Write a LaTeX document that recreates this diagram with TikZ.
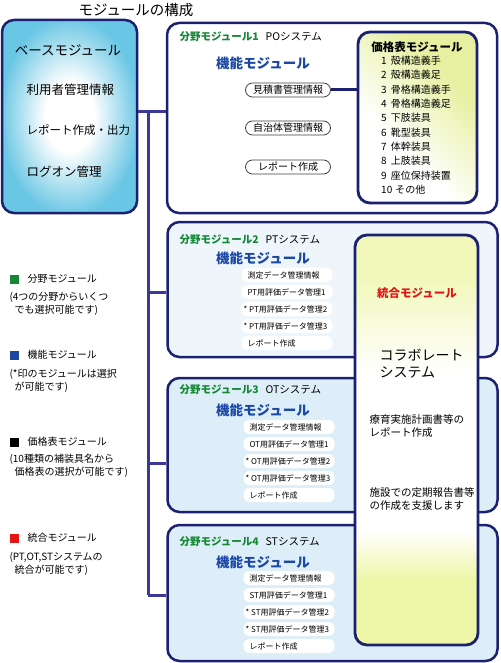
\documentclass[tikz,border=0pt]{standalone}
\usepackage{fontspec}
\setmainfont{Noto Sans CJK JP}
\usepackage{tikz}
\usetikzlibrary{positioning}
\definecolor{navy}{RGB}{28,32,112}
\definecolor{trunkblue}{RGB}{58,58,150}
\definecolor{basecyan}{RGB}{105,198,228}
\definecolor{paleblue}{RGB}{238,246,252}
\definecolor{lightblue}{RGB}{221,238,248}
\definecolor{priceyellow}{RGB}{230,240,160}
\definecolor{unifyyellow}{RGB}{238,246,168}
\definecolor{fieldgreen}{RGB}{22,135,55}
\definecolor{funcblue}{RGB}{28,72,165}
\definecolor{unifyred}{RGB}{228,20,20}
\pgfdeclareradialshading{baseglow}{\pgfpointorigin}{color(0bp)=(white); color(9bp)=(white); color(26bp)=(basecyan); color(50bp)=(basecyan)}
\pgfdeclarehorizontalshading{pricefade}{100bp}{color(0bp)=(white); color(38bp)=(white); color(68bp)=(priceyellow); color(100bp)=(priceyellow)}
\pgfdeclareverticalshading{unifyfade}{100bp}{color(0bp)=(unifyyellow); color(33bp)=(unifyyellow); color(39bp)=(white); color(58bp)=(white); color(70bp)=(unifyyellow!80); color(100bp)=(unifyyellow!80)}
\tikzset{
  basebox/.style={draw=navy, line width=2.5pt, rounded corners=12pt, shading=baseglow, minimum width=135pt, minimum height=193pt},
  fieldbox/.style={draw=navy, line width=2.5pt, rounded corners=12pt, minimum width=330pt},
  pricebox/.style={draw=navy, line width=2.8pt, rounded corners=12pt, shading=pricefade, shading angle=45, minimum width=119pt, minimum height=171pt},
  unifybox/.style={draw=navy, line width=2.8pt, rounded corners=12pt, shading=unifyfade, minimum width=123pt, minimum height=410pt},
  pillbox/.style={draw=black!75, line width=0.8pt, rounded corners=7pt, fill=white, minimum width=85pt, minimum height=14pt, inner sep=1pt, font=\fontsize{10}{12}\selectfont},
  itembox/.style={fill=white, rounded corners=6pt, text width=87pt, align=left, minimum height=14pt, inner sep=2pt, font=\fontsize{8}{10}\selectfont},
  fieldtitle/.style={anchor=west, font=\fontsize{10.5}{12}\selectfont},
  functitle/.style={text=funcblue, font=\bfseries\fontsize{13.5}{15}\selectfont},
  basetext/.style={font=\fontsize{12.5}{15}\selectfont},
  legendsq/.style={minimum size=9pt, inner sep=0pt},
  legendtext/.style={anchor=west, font=\fontsize{10}{12}\selectfont},
  legendnote/.style={anchor=west, align=left, font=\fontsize{10}{12.5}\selectfont},
  trunkline/.style={draw=trunkblue, line width=3pt},
  linkline/.style={draw=navy, line width=3pt}
}

\begin{document}
\begin{tikzpicture}[x=1pt, y=-1pt]
  \useasboundingbox (0,0) rectangle (500,663);
  \node[font=\fontsize{14.5}{16}\selectfont] (title) at (136,10) {モジュールの構成};

  % base module
  \node[basebox] (base) at (69.5,116.5) {};
  \node[basetext, font=\fontsize{13.5}{15}\selectfont] (bname) at (68,50) {ベースモジュール};
  \node[basetext, anchor=west] (b1) at (23,90) {利用者管理情報};
  \node[basetext, anchor=west, font=\fontsize{11.5}{15}\selectfont] (b2) at (23,130) {レポート作成・出力};
  \node[basetext, anchor=west] (b3) at (23,172) {ログオン管理};

  % field modules
  \node[fieldbox, fill=white, minimum height=190pt] (f1) at (332,118) {};
  \node[fieldbox, fill=paleblue, minimum height=135pt] (f2) at (332.5,289.5) {};
  \node[fieldbox, fill=lightblue, minimum height=134pt] (f3) at (332.5,445) {};
  \node[fieldbox, fill=lightblue, minimum height=136pt] (f4) at (332.5,593) {};

  \coordinate (j1) at (148,112);
  \coordinate (j2) at (148,292);
  \coordinate (j3) at (148,463);
  \coordinate (j4) at (148,595);
  \draw[trunkline] (base.east |- j1) -- (f1.west |- j1);
  \draw[trunkline] (j1) -- (j4);
  \draw[trunkline] (j2) -- (f2.west |- j2);
  \draw[trunkline] (j3) -- (f3.west |- j3);
  \draw[trunkline] (j4) -- (f4.west |- j4);

  % field 1 : PO
  \node[fieldtitle] (t1) at (176,37) {{\bfseries\color{fieldgreen}分野モジュール1}\hspace{7pt}POシステム};
  \node[functitle] (k1) at (263,63) {機能モジュール};
  \node[pillbox] (p11) at (288,90) {見積書管理情報};
  \node[pillbox] (p12) at (288,128) {自治体管理情報};
  \node[pillbox] (p13) at (288,167) {レポート作成};

  \node[pricebox] (price) at (417.5,117.5) {};
  \node[font=\bfseries\fontsize{11.5}{13}\selectfont] (ptitle) at (417,47) {価格表モジュール};
  \node[anchor=north west, align=left, inner sep=0pt, font=\fontsize{10}{14.3}\selectfont] (plist) at (381,56) {1\hspace{4pt}殻構造義手\\2\hspace{4pt}殻構造義足\\3\hspace{4pt}骨格構造義手\\4\hspace{4pt}骨格構造義足\\5\hspace{4pt}下肢装具\\6\hspace{4pt}靴型装具\\7\hspace{4pt}体幹装具\\8\hspace{4pt}上肢装具\\9\hspace{4pt}座位保持装置\\10\hspace{3pt}その他};
  \draw[linkline] (p11) -- (price.west |- p11);

  % field 2 : PT
  \node[fieldtitle] (t2) at (176,240) {{\bfseries\color{fieldgreen}分野モジュール2}\hspace{7pt}PTシステム};
  \node[functitle] (k2) at (263,258) {機能モジュール};
  \node[itembox] (i21) at (287,275) {\mbox{\hspace{4pt}測定データ管理情報}};
  \node[itembox] (i22) at (287,292) {\mbox{\hspace{4pt}PT用評価データ管理1}};
  \node[itembox] (i23) at (287,309) {\mbox{*\hspace{2pt}PT用評価データ管理2}};
  \node[itembox] (i24) at (287,326) {\mbox{*\hspace{2pt}PT用評価データ管理3}};
  \node[itembox] (i25) at (287,343) {\mbox{\hspace{4pt}レポート作成}};

  % field 3 : OT
  \node[fieldtitle] (t3) at (176,390) {{\bfseries\color{fieldgreen}分野モジュール3}\hspace{7pt}OTシステム};
  \node[functitle] (k3) at (263,410) {機能モジュール};
  \node[itembox] (i31) at (289,427) {\mbox{\hspace{4pt}測定データ管理情報}};
  \node[itembox] (i32) at (289,444) {\mbox{\hspace{4pt}OT用評価データ管理1}};
  \node[itembox] (i33) at (289,461) {\mbox{*\hspace{2pt}OT用評価データ管理2}};
  \node[itembox] (i34) at (289,478) {\mbox{*\hspace{2pt}OT用評価データ管理3}};
  \node[itembox] (i35) at (289,495) {\mbox{\hspace{4pt}レポート作成}};

  % field 4 : ST
  \node[fieldtitle] (t4) at (176,542) {{\bfseries\color{fieldgreen}分野モジュール4}\hspace{7pt}STシステム};
  \node[functitle] (k4) at (263,562) {機能モジュール};
  \node[itembox] (i41) at (289,578) {\mbox{\hspace{4pt}測定データ管理情報}};
  \node[itembox] (i42) at (289,595) {\mbox{\hspace{4pt}ST用評価データ管理1}};
  \node[itembox] (i43) at (289,612) {\mbox{*\hspace{2pt}ST用評価データ管理2}};
  \node[itembox] (i44) at (289,629) {\mbox{*\hspace{2pt}ST用評価データ管理3}};
  \node[itembox] (i45) at (289,646) {\mbox{\hspace{4pt}レポート作成}};

  % unified module
  \node[unifybox] (unify) at (416.5,440) {};
  \node[text=unifyred, font=\bfseries\fontsize{11.5}{13}\selectfont] (uname) at (417,293) {統合モジュール};
  \node[anchor=west, align=left, font=\fontsize{14}{17}\selectfont] (collab) at (376,364) {コラボレート\\システム};
  \node[anchor=west, align=left, font=\fontsize{10.5}{12.5}\selectfont] (u1) at (366,426) {療育実施計画書等の\\レポート作成};
  \node[anchor=west, align=left, font=\fontsize{10.5}{12.5}\selectfont] (u2) at (366,499) {施設での定期報告書等\\の作成を支援します};

  % legend
  \node[legendsq, fill=fieldgreen] (lg1) at (14,279) {};
  \node[legendtext] (lt1) at (24,279) {分野モジュール};
  \node[legendnote] (ln1) at (6,304) {(4つの分野からいくつ\\\hspace{5pt}でも選択可能です)};
  \node[legendsq, fill=funcblue] (lg2) at (14,355) {};
  \node[legendtext] (lt2) at (24,355) {機能モジュール};
  \node[legendnote] (ln2) at (6,381) {(*印のモジュールは選択\\\hspace{5pt}が可能です)};
  \node[legendsq, fill=black] (lg3) at (14,442) {};
  \node[legendtext] (lt3) at (24,442) {価格表モジュール};
  \node[legendnote] (ln3) at (6,466) {(10種類の補装具名から\\\hspace{5pt}価格表の選択が可能です)};
  \node[legendsq, fill=unifyred] (lg4) at (14,538) {};
  \node[legendtext] (lt4) at (24,538) {統合モジュール};
  \node[legendnote] (ln4) at (6,564) {(PT,OT,STシステムの\\\hspace{5pt}統合が可能です)};
\end{tikzpicture}
\end{document}
